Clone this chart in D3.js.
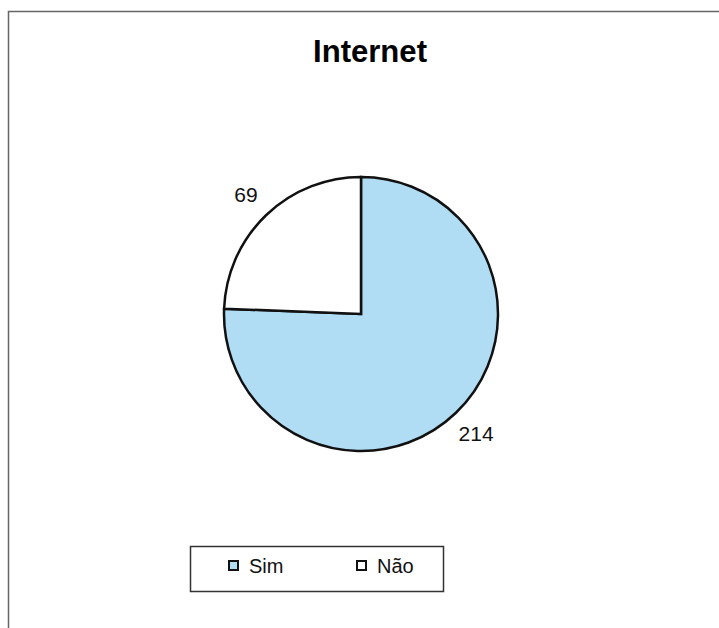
<!DOCTYPE html>
<html>
<head>
<meta charset="utf-8">
<script src="https://cdn.jsdelivr.net/npm/d3@7"></script>
<style>
  body { margin: 0; background: #fff; }
  text { font-family: "Liberation Sans", Arial, sans-serif; }
</style>
</head>
<body>
<script>
// data
const categories = ["Sim", "Não"];
const values = [214, 69];
const colors = ["#b0dcf4", "#ffffff"];
const title = "Internet";

const width = 719, height = 628;
const cx = 361, cy = 314, radius = 137;

const svg = d3.select("body").append("svg")
  .attr("width", width)
  .attr("height", height);

// outer frame (bottom/right run off the picture)
svg.append("rect")
  .attr("x", 8.5).attr("y", 11.5)
  .attr("width", 720).attr("height", 630)
  .attr("fill", "none")
  .attr("stroke", "#666")
  .attr("stroke-width", 1.5);

svg.append("text")
  .attr("x", 370).attr("y", 62)
  .attr("text-anchor", "middle")
  .attr("font-size", 32)
  .attr("font-weight", "bold")
  .attr("textLength", 114)
  .attr("lengthAdjust", "spacingAndGlyphs")
  .text(title);

const data = categories.map(function(c, i) { return { name: c, value: values[i], color: colors[i] }; });

const pie = d3.pie()
  .sort(null)
  .value(function(d) { return d.value; });

const arc = d3.arc().innerRadius(0).outerRadius(radius);
const labelArc = d3.arc().innerRadius(166).outerRadius(166);

const g = svg.append("g").attr("transform", "translate(" + cx + "," + cy + ")");
const arcs = pie(data);

g.selectAll("path").data(arcs)
  .enter().append("path")
  .attr("d", arc)
  .attr("fill", function(d) { return d.data.color; })
  .attr("stroke", "#111")
  .attr("stroke-width", 2.5)
  .attr("stroke-linejoin", "miter");

g.selectAll("text.lbl").data(arcs)
  .enter().append("text")
  .attr("class", "lbl")
  .attr("transform", function(d) { return "translate(" + labelArc.centroid(d) + ")"; })
  .attr("text-anchor", "middle")
  .attr("dy", "0.35em")
  .attr("font-size", 21)
  .attr("fill", "#111")
  .text(function(d) { return d.data.value; });

// legend
const legend = svg.append("g");
legend.append("rect")
  .attr("x", 190.5).attr("y", 546.5)
  .attr("width", 253).attr("height", 45)
  .attr("fill", "#fff")
  .attr("stroke", "#333")
  .attr("stroke-width", 1.5);

const legendX = [228, 356];
const items = legend.selectAll("g.item").data(data)
  .enter().append("g")
  .attr("class", "item")
  .attr("transform", function(d, i) { return "translate(" + legendX[i] + ",560)"; });

items.append("rect")
  .attr("x", 1).attr("y", 1)
  .attr("width", 9).attr("height", 9)
  .attr("fill", function(d) { return d.color; })
  .attr("stroke", "#111")
  .attr("stroke-width", 2);

items.append("text")
  .attr("x", 21).attr("y", 13)
  .attr("font-size", 20)
  .attr("fill", "#111")
  .text(function(d) { return d.name; });
</script>
</body>
</html>
